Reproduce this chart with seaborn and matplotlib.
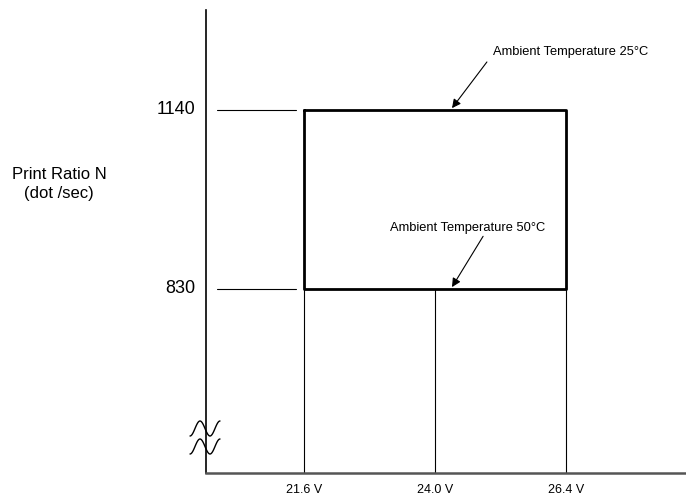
import numpy as np
import pandas as pd
import matplotlib
matplotlib.use("Agg")
import matplotlib.pyplot as plt
import seaborn as sns

# data
voltages = [21.6, 24.0, 26.4]
voltage_labels = ["21.6 V", "24.0 V", "26.4 V"]
print_ratio = [830, 1140]
ratio_labels = ["830", "1140"]
notes = ["Ambient Temperature 25°C", "Ambient Temperature 50°C"]

sns.set_style("white")
plt.rcParams["font.family"] = ["Liberation Sans", "DejaVu Sans"]
plt.rcParams.update({"text.color": "black", "xtick.color": "black"})

fig = plt.figure(figsize=(6.86, 4.98), dpi=100)
ax = fig.add_axes([206 / 686, 25 / 498, 480 / 686, 463 / 498])

lo, hi = min(print_ratio), max(print_ratio)
vmin, vmax = min(voltages), max(voltages)

# operating range box
box = pd.DataFrame({
    "v": [vmin, vmax, vmax, vmin, vmin],
    "n": [hi, hi, lo, lo, hi],
})
sns.lineplot(data=box, x="v", y="n", sort=False, estimator=None,
             color="black", linewidth=2, ax=ax)
ax.set_xlabel("")
ax.set_ylabel("")

ax.set_xlim(19.8, 28.6)
ax.set_ylim(511, 1313)

# vertical drops from the lower edge to the voltage axis
for v in voltages:
    ax.plot([v, v], [511, lo], color="black", linewidth=0.8)

# short guide lines for the ratio values
for n, lab in zip(print_ratio, ratio_labels):
    ax.plot([20.0, 21.45], [n, n], color="black", linewidth=0.8)
    ax.text(19.6, n, lab, ha="right", va="center", fontsize=13)

ax.set_xticks(voltages)
ax.set_xticklabels(voltage_labels, fontsize=9)
ax.set_yticks([])
ax.tick_params(axis="x", length=0, pad=8)

for s in ["top", "right"]:
    ax.spines[s].set_visible(False)
ax.spines["left"].set_color("black")
ax.spines["left"].set_linewidth(1.2)
ax.spines["bottom"].set_color("#555555")
ax.spines["bottom"].set_linewidth(1.8)

# annotations
ax.text(25.06, 1240, notes[0], ha="left", va="center", fontsize=9.3)
ax.text(23.17, 935, notes[1], ha="left", va="center", fontsize=9.3)
arrow = dict(arrowstyle="-|>", color="black", lw=0.8,
             shrinkA=0, shrinkB=0, mutation_scale=13)
ax.annotate("", xy=(24.31, 1143), xytext=(24.95, 1223), arrowprops=arrow)
ax.annotate("", xy=(24.31, 833), xytext=(24.88, 921), arrowprops=arrow)

# y label
fig.text(59 / 686, 1 - 184 / 498, "Print Ratio N\n(dot /sec)", ha="center",
         va="center", fontsize=12, linespacing=1.3)

# axis break marks
px = np.linspace(190, 220, 80)
for c in [428.5, 446.5]:
    py = c - 7.5 * np.sin(2 * np.pi * (px - 195) / 20)
    ax.plot((px - 206) / 480, (473 - py) / 463, color="black", linewidth=1,
            transform=ax.transAxes, clip_on=False)

fig.savefig("out.png", dpi=100)
